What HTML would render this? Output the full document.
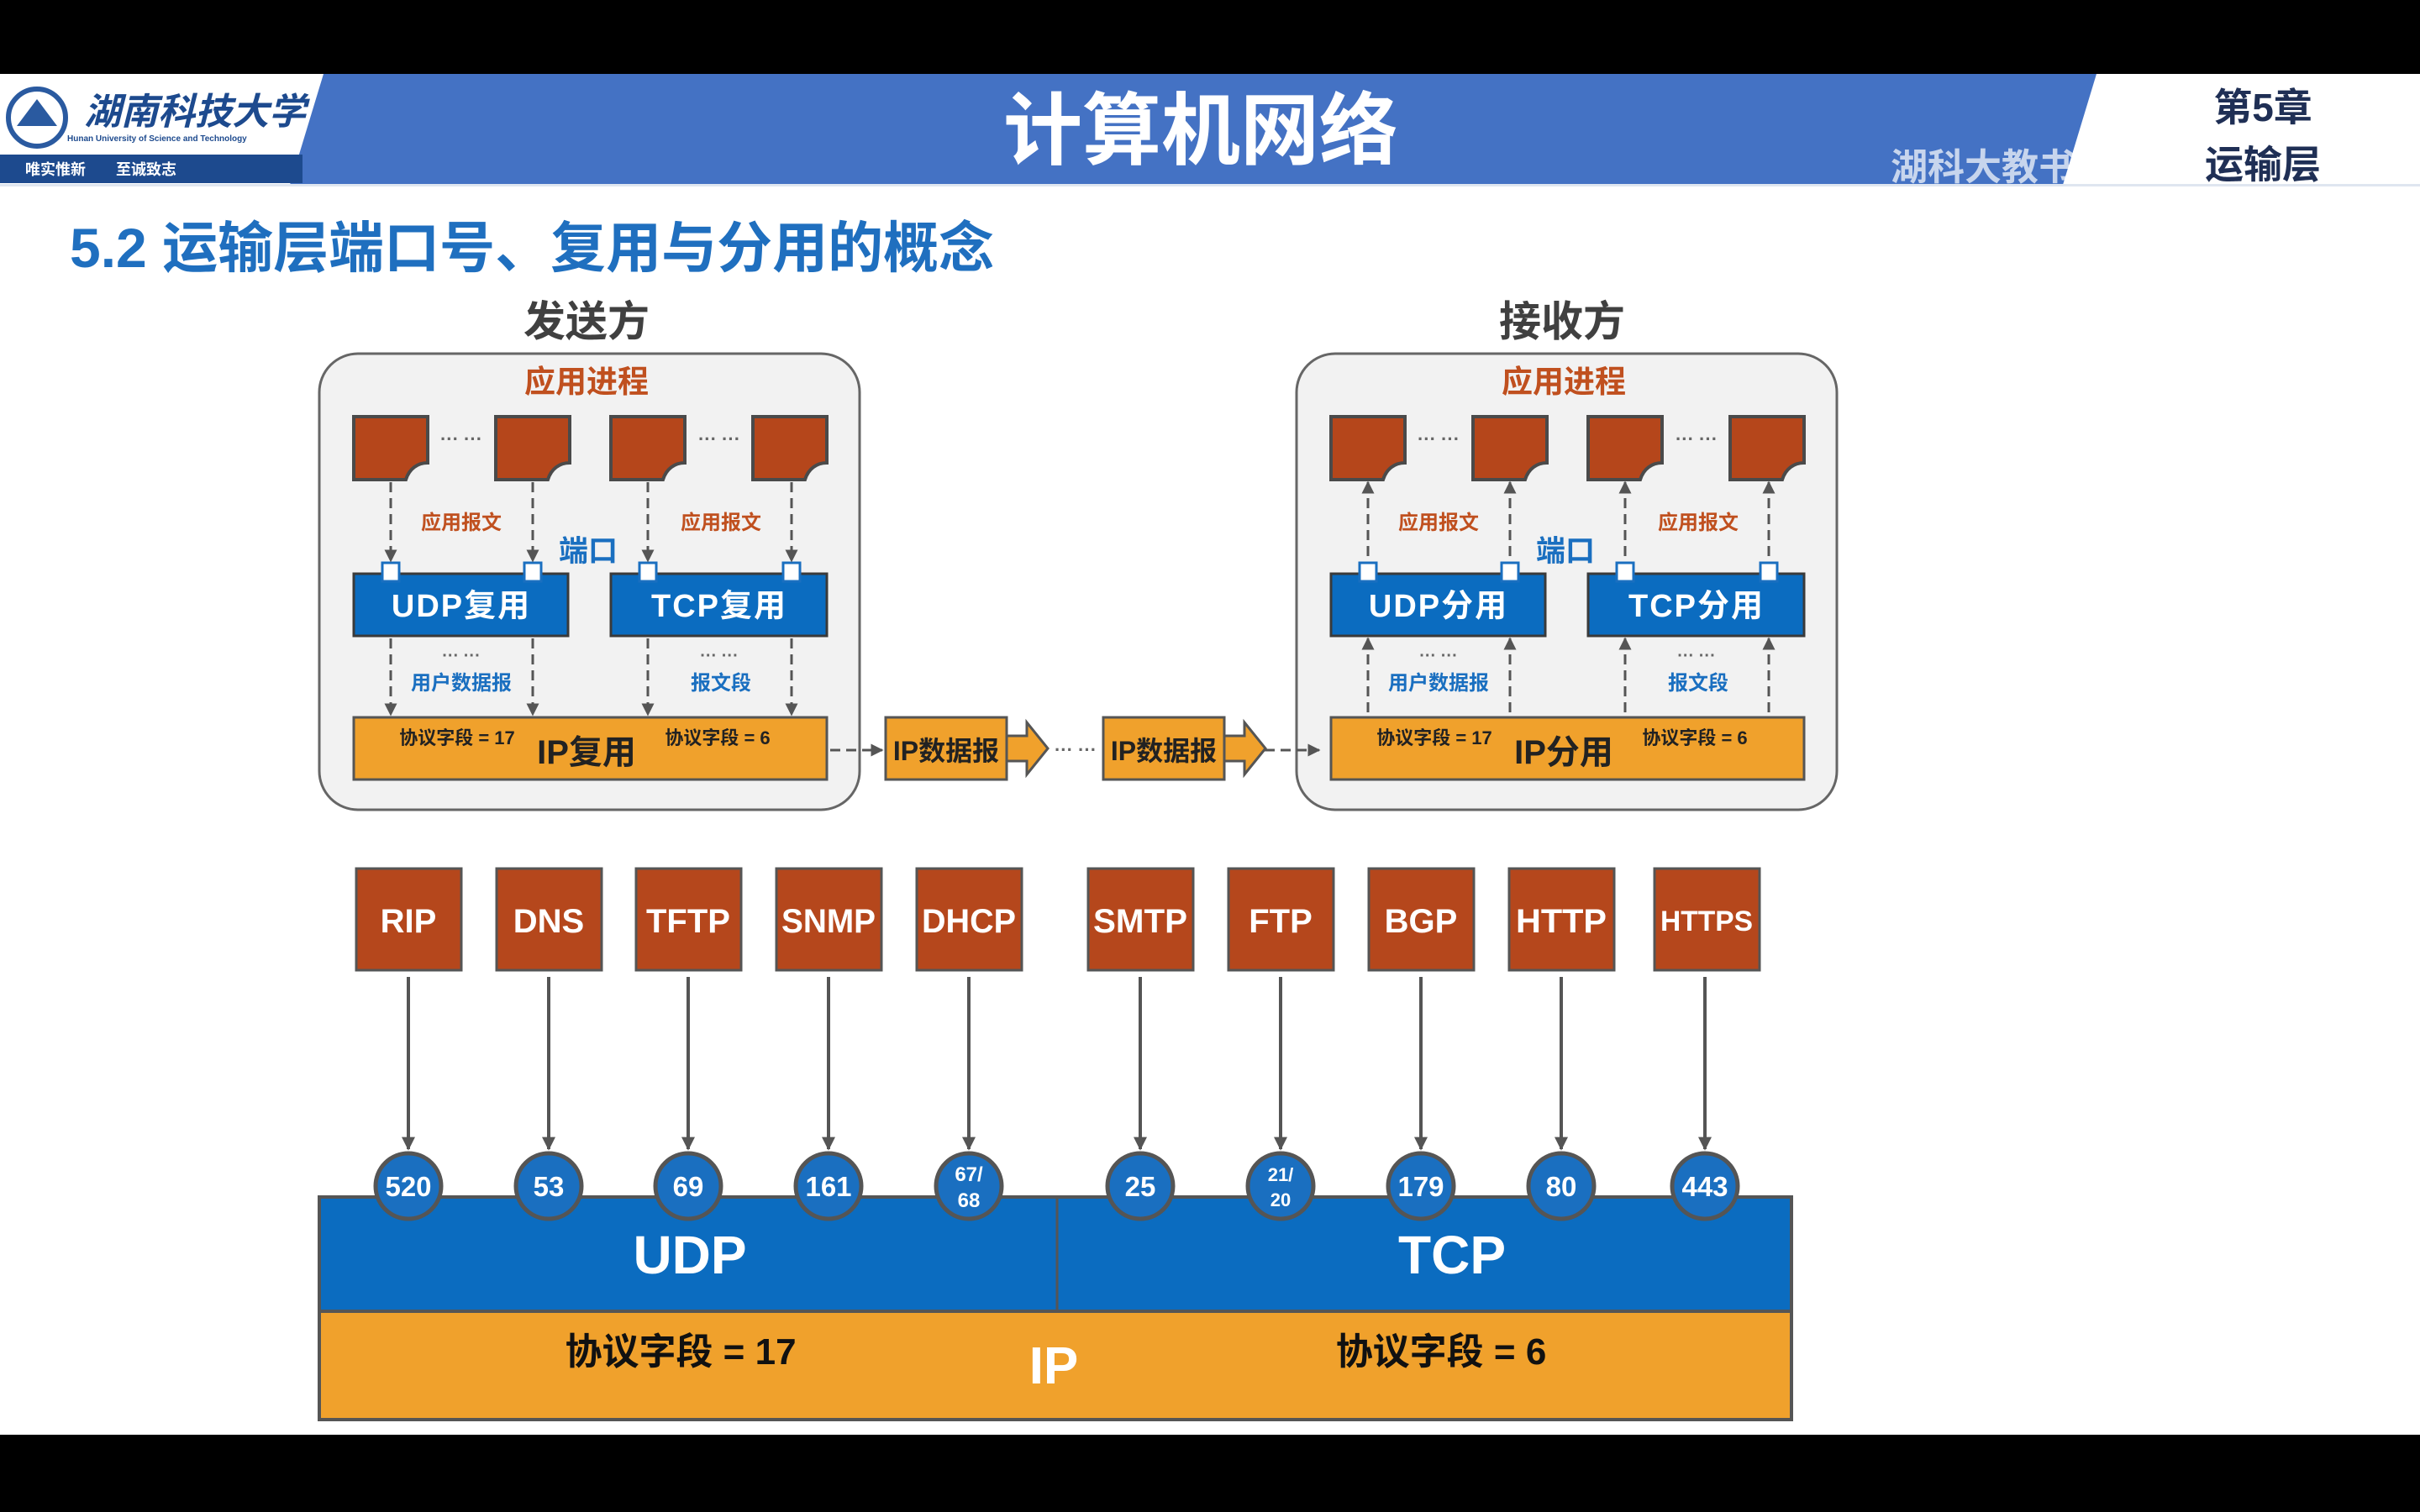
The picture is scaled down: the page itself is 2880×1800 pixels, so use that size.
<!DOCTYPE html>
<html><head><meta charset="utf-8"><style>
html,body{margin:0;padding:0;background:#000;}
svg{display:block;}
text{font-family:"Liberation Sans","Noto Sans CJK SC",sans-serif;font-weight:bold;}
</style></head><body>
<svg width="2880" height="1800" viewBox="0 0 2880 1800" xmlns="http://www.w3.org/2000/svg">
<defs>
<marker id="ah" viewBox="0 0 10 10" refX="9" refY="5" markerWidth="5" markerHeight="5" orient="auto-start-reverse"><path d="M0,0 L10,5 L0,10 Z" fill="#555"/></marker>
<marker id="ah2" viewBox="0 0 10 10" refX="9" refY="5" markerWidth="4" markerHeight="4" orient="auto-start-reverse"><path d="M0,0 L10,5 L0,10 Z" fill="#555"/></marker>
<g id="doc"><path d="M0 0 H88 V55 C76 55 66 62 62 75 H0 Z" fill="#b5461b" stroke="#4a4a4a" stroke-width="4"/></g>
</defs>
<rect x="0" y="0" width="2880" height="1800" fill="#000"/>
<rect x="0" y="88" width="2880" height="1620" fill="#fff"/>
<!-- header -->
<polygon points="385,88 2495,88 2455,220 345,220" fill="#4472c4"/>
<rect x="0" y="184" width="360" height="34" fill="#1d4a8e"/>
<circle cx="44" cy="140" r="34" fill="#fff" stroke="#2a5aa0" stroke-width="6"/>
<path d="M20 150 L44 118 L68 150 Z" fill="#2a5aa0"/>
<text x="100" y="148" font-size="44" fill="#1d4a8e" font-style="italic">湖南科技大学</text>
<text x="80" y="168" font-size="10" fill="#1d4a8e" font-weight="normal">Hunan University of Science and Technology</text>
<text x="30" y="208" font-size="18" fill="#fff">唯实惟新　　至诚致志</text>
<text x="1429" y="188" font-size="94" fill="#fff" text-anchor="middle">计算机网络</text>
<text x="2693" y="144" font-size="46" fill="#1f2f55" text-anchor="middle">第5章</text>
<text x="2693" y="212" font-size="46" fill="#1f2f55" text-anchor="middle">运输层</text>
<text x="2250" y="214" font-size="44" fill="#fff" opacity="0.7">湖科大教书匠</text>
<rect x="0" y="219" width="2880" height="3" fill="#dfe6f0"/>
<text x="83" y="318" font-size="66" fill="#1f6fbf">5.2 运输层端口号、复用与分用的概念</text>

<text x="698" y="400" font-size="50" fill="#404040" text-anchor="middle">发送方</text>
<text x="1859" y="400" font-size="50" fill="#404040" text-anchor="middle">接收方</text>

<!-- sender / receiver boxes -->
<g id="side">
<rect x="380" y="421" width="643" height="543" rx="46" fill="#f2f2f2" stroke="#666" stroke-width="3"/>
<text x="698" y="467" font-size="37" fill="#c0501f" text-anchor="middle">应用进程</text>
<use href="#doc" x="421" y="496"/><use href="#doc" x="590" y="496"/>
<use href="#doc" x="727" y="496"/><use href="#doc" x="896" y="496"/>
<text x="549" y="530" font-size="22" fill="#666" text-anchor="middle">··· ···</text>
<text x="856" y="530" font-size="22" fill="#666" text-anchor="middle">··· ···</text>
<text x="549" y="630" font-size="24" fill="#c0501f" text-anchor="middle">应用报文</text>
<text x="858" y="630" font-size="24" fill="#c0501f" text-anchor="middle">应用报文</text>
<text x="700" y="668" font-size="35" fill="#1a6fc0" text-anchor="middle">端口</text>
<rect x="421" y="683" width="255" height="74" fill="#0b6cc0" stroke="#3a3a3a" stroke-width="3"/>
<rect x="727" y="683" width="257" height="74" fill="#0b6cc0" stroke="#3a3a3a" stroke-width="3"/>
<g fill="#fff" stroke="#1a6fc0" stroke-width="3">
<rect x="455" y="670" width="20" height="22"/><rect x="624" y="670" width="20" height="22"/>
<rect x="761" y="670" width="20" height="22"/><rect x="932" y="670" width="20" height="22"/>
</g>
<text x="549" y="734" font-size="38" fill="#fff" text-anchor="middle" letter-spacing="2">UDP复用</text>
<text x="856" y="734" font-size="38" fill="#fff" text-anchor="middle" letter-spacing="2">TCP复用</text>
<text x="549" y="787" font-size="20" fill="#666" text-anchor="middle">··· ···</text>
<text x="856" y="787" font-size="20" fill="#666" text-anchor="middle">··· ···</text>
<text x="549" y="821" font-size="24" fill="#1a6fc0" text-anchor="middle">用户数据报</text>
<text x="858" y="821" font-size="24" fill="#1a6fc0" text-anchor="middle">报文段</text>
<rect x="421" y="854" width="563" height="74" fill="#f0a12c" stroke="#555" stroke-width="3"/>
<text x="544" y="886" font-size="22" fill="#222" text-anchor="middle">协议字段 = 17</text>
<text x="854" y="886" font-size="22" fill="#222" text-anchor="middle">协议字段 = 6</text>
</g>
<text x="698" y="909" font-size="40" fill="#222" text-anchor="middle">IP复用</text>
<use href="#side" x="1163" y="0"/>
<rect x="1586" y="700" width="250" height="50" fill="#0b6cc0"/>
<rect x="1892" y="700" width="250" height="50" fill="#0b6cc0"/>
<text x="1712" y="734" font-size="38" fill="#fff" text-anchor="middle" letter-spacing="2">UDP分用</text>
<text x="2019" y="734" font-size="38" fill="#fff" text-anchor="middle" letter-spacing="2">TCP分用</text>
<text x="1861" y="909" font-size="40" fill="#222" text-anchor="middle">IP分用</text>

<g stroke="#555" stroke-width="3" stroke-dasharray="12,7" fill="none">
<line x1="465" y1="574" x2="465" y2="668" marker-end="url(#ah)"/>
<line x1="634" y1="574" x2="634" y2="668" marker-end="url(#ah)"/>
<line x1="771" y1="574" x2="771" y2="668" marker-end="url(#ah)"/>
<line x1="942" y1="574" x2="942" y2="668" marker-end="url(#ah)"/>
<line x1="465" y1="760" x2="465" y2="851" marker-end="url(#ah)"/>
<line x1="634" y1="760" x2="634" y2="851" marker-end="url(#ah)"/>
<line x1="771" y1="760" x2="771" y2="851" marker-end="url(#ah)"/>
<line x1="942" y1="760" x2="942" y2="851" marker-end="url(#ah)"/>
<line x1="1628" y1="574" x2="1628" y2="668" marker-start="url(#ah)"/>
<line x1="1797" y1="574" x2="1797" y2="668" marker-start="url(#ah)"/>
<line x1="1934" y1="574" x2="1934" y2="668" marker-start="url(#ah)"/>
<line x1="2105" y1="574" x2="2105" y2="668" marker-start="url(#ah)"/>
<line x1="1628" y1="760" x2="1628" y2="851" marker-start="url(#ah)"/>
<line x1="1797" y1="760" x2="1797" y2="851" marker-start="url(#ah)"/>
<line x1="1934" y1="760" x2="1934" y2="851" marker-start="url(#ah)"/>
<line x1="2105" y1="760" x2="2105" y2="851" marker-start="url(#ah)"/>
<line x1="988" y1="893" x2="1050" y2="893" marker-end="url(#ah)"/>
<line x1="1505" y1="893" x2="1570" y2="893" marker-end="url(#ah)"/>
</g>
<g fill="#f0a12c" stroke="#555" stroke-width="3">
<rect x="1054" y="854" width="144" height="74"/>
<path d="M1198 876 H1222 V860 L1247 891 L1222 922 V906 H1198 Z"/>
<rect x="1313" y="854" width="144" height="74"/>
<path d="M1457 876 H1481 V860 L1506 891 L1481 922 V906 H1457 Z"/>
</g>
<text x="1126" y="905" font-size="32" fill="#222" text-anchor="middle">IP数据报</text>
<text x="1385" y="905" font-size="32" fill="#222" text-anchor="middle">IP数据报</text>
<text x="1280" y="900" font-size="22" fill="#666" text-anchor="middle">··· ···</text>

<g fill="#b5471c" stroke="#555" stroke-width="3">
<rect x="424" y="1034" width="125" height="121"/><rect x="591" y="1034" width="125" height="121"/>
<rect x="757" y="1034" width="125" height="121"/><rect x="924" y="1034" width="125" height="121"/>
<rect x="1091" y="1034" width="125" height="121"/><rect x="1295" y="1034" width="125" height="121"/>
<rect x="1462" y="1034" width="125" height="121"/><rect x="1629" y="1034" width="125" height="121"/>
<rect x="1796" y="1034" width="125" height="121"/><rect x="1969" y="1034" width="125" height="121"/>
</g>
<g font-size="40" fill="#fff" text-anchor="middle">
<text x="486" y="1110">RIP</text><text x="653" y="1110">DNS</text><text x="819" y="1110">TFTP</text>
<text x="986" y="1110" textLength="112" lengthAdjust="spacingAndGlyphs">SNMP</text><text x="1153" y="1110" textLength="112" lengthAdjust="spacingAndGlyphs">DHCP</text>
<text x="1357" y="1110" textLength="112" lengthAdjust="spacingAndGlyphs">SMTP</text><text x="1524" y="1110">FTP</text>
<text x="1691" y="1110">BGP</text><text x="1858" y="1110" textLength="108" lengthAdjust="spacingAndGlyphs">HTTP</text>
<text x="2031" y="1108" font-size="34" textLength="110" lengthAdjust="spacingAndGlyphs">HTTPS</text>
</g>
<g stroke="#555" stroke-width="4">
<line x1="486" y1="1163" x2="486" y2="1368" marker-end="url(#ah2)"/>
<line x1="653" y1="1163" x2="653" y2="1368" marker-end="url(#ah2)"/>
<line x1="819" y1="1163" x2="819" y2="1368" marker-end="url(#ah2)"/>
<line x1="986" y1="1163" x2="986" y2="1368" marker-end="url(#ah2)"/>
<line x1="1153" y1="1163" x2="1153" y2="1368" marker-end="url(#ah2)"/>
<line x1="1357" y1="1163" x2="1357" y2="1368" marker-end="url(#ah2)"/>
<line x1="1524" y1="1163" x2="1524" y2="1368" marker-end="url(#ah2)"/>
<line x1="1691" y1="1163" x2="1691" y2="1368" marker-end="url(#ah2)"/>
<line x1="1858" y1="1163" x2="1858" y2="1368" marker-end="url(#ah2)"/>
<line x1="2029" y1="1163" x2="2029" y2="1368" marker-end="url(#ah2)"/>
</g>
<rect x="380" y="1425" width="1752" height="136" fill="#0b6cc0" stroke="#555" stroke-width="4"/>
<line x1="1258" y1="1425" x2="1258" y2="1561" stroke="#555" stroke-width="3"/>
<rect x="380" y="1561" width="1752" height="129" fill="#f0a12c" stroke="#555" stroke-width="4"/>
<text x="821" y="1516" font-size="64" fill="#fff" text-anchor="middle">UDP</text>
<text x="1728" y="1516" font-size="64" fill="#fff" text-anchor="middle">TCP</text>
<text x="810" y="1624" font-size="44" fill="#111" text-anchor="middle">协议字段 = 17</text>
<text x="1715" y="1624" font-size="44" fill="#111" text-anchor="middle">协议字段 = 6</text>
<text x="1254" y="1647" font-size="62" fill="#fff" text-anchor="middle">IP</text>
<g fill="#1a6fc0" stroke="#555" stroke-width="5">
<circle cx="486" cy="1412" r="39"/><circle cx="653" cy="1412" r="39"/><circle cx="819" cy="1412" r="39"/>
<circle cx="986" cy="1412" r="39"/><circle cx="1153" cy="1412" r="39"/><circle cx="1357" cy="1412" r="39"/>
<circle cx="1524" cy="1412" r="39"/><circle cx="1691" cy="1412" r="39"/><circle cx="1858" cy="1412" r="39"/>
<circle cx="2029" cy="1412" r="39"/>
</g>
<g font-size="33" fill="#fff" text-anchor="middle">
<text x="486" y="1424">520</text><text x="653" y="1424">53</text><text x="819" y="1424">69</text>
<text x="986" y="1424">161</text>
<text x="1153" y="1406" font-size="24">67/</text><text x="1153" y="1437" font-size="24">68</text>
<text x="1357" y="1424">25</text>
<text x="1524" y="1406" font-size="22">21/</text><text x="1524" y="1436" font-size="22">20</text>
<text x="1691" y="1424">179</text><text x="1858" y="1424">80</text><text x="2029" y="1424">443</text>
</g>
</svg>
</body></html>
